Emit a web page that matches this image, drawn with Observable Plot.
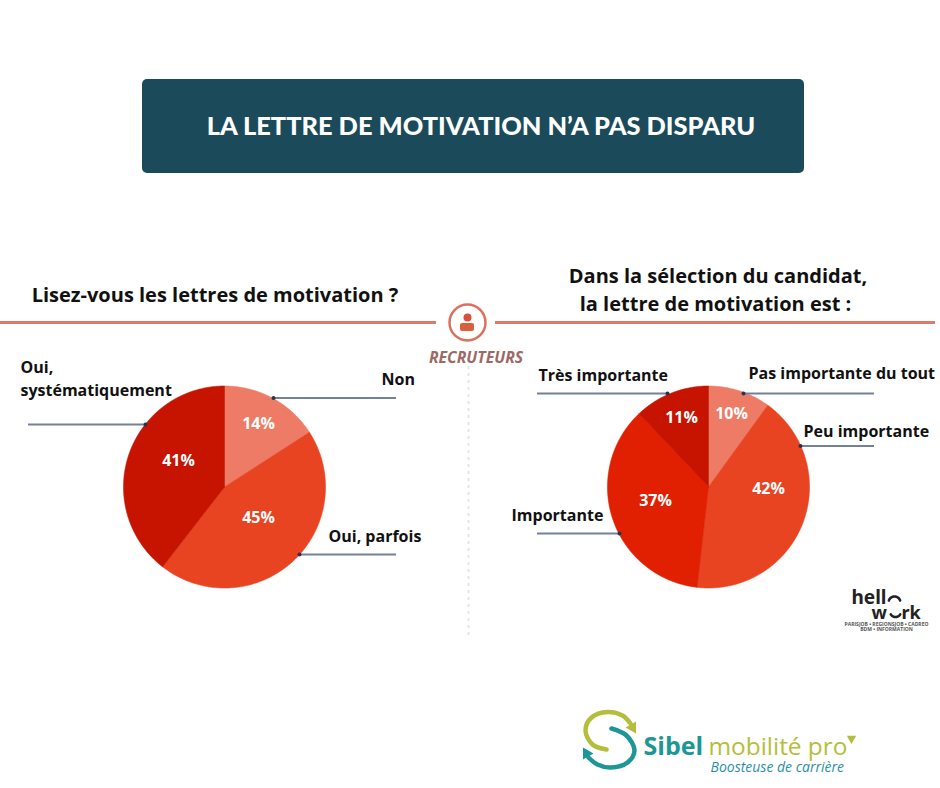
<!DOCTYPE html>
<html lang="fr">
<head>
<meta charset="utf-8">
<script src="https://cdn.jsdelivr.net/npm/d3@7"></script>
<script src="https://cdn.jsdelivr.net/npm/@observablehq/plot@0.6"></script>
<style>
html,body{margin:0;padding:0;background:#fff;}
svg{display:block;}
</style>
</head>
<body>
<div id="chart"></div>
<script>
// ---- Data ----
const mainTitle = "LA LETTRE DE MOTIVATION N’A PAS DISPARU";
const leftQuestion = ["Lisez-vous les lettres de motivation ?"];
const rightQuestion = ["Dans la sélection du candidat,", "la lettre de motivation est :"];
const centerLabel = "RECRUTEURS";

const leftCategories = ["Non", "Oui, parfois", "Oui, systématiquement"];
const leftPercentLabels = ["14%", "45%", "41%"];
const leftShares = [15.9, 44.6, 39.5];           // slice sizes as drawn in the picture

const rightCategories = ["Pas importante du tout", "Peu importante", "Importante", "Très importante"];
const rightPercentLabels = ["10%", "42%", "37%", "11%"];
const rightShares = [10, 41.8, 36.1, 12.1];      // slice sizes as drawn in the picture

// ---- Layout and style (separate from the data) ----
const W = 940, H = 788;
const R = 101;
const leftCenter = [224, 486.5], rightCenter = [708, 486.5];
const leftColors = ["#EE7B65", "#E84422", "#C61400"];
const rightColors = ["#EE7B65", "#E84422", "#E02000", "#C61400"];
const leftPctPos = [[258, 423], [258, 517], [178, 460]];
const rightPctPos = [[731, 413], [768, 488], [655, 500], [681, 417]];
const leaderColor = "#75819A";
const font = "'Open Sans', sans-serif";

function wedges(shares, colors, center, id) {
  const arcs = d3.pie().sort(null)(shares);
  return arcs.flatMap((a, i) => {
    const n = Math.ceil((a.endAngle - a.startAngle) / 0.01);
    const pts = [{x: center[0], y: center[1], z: id + i, c: colors[i]}];
    for (let k = 0; k <= n; k++) {
      const t = a.startAngle + (a.endAngle - a.startAngle) * k / n;
      pts.push({x: center[0] + R * Math.sin(t), y: center[1] - R * Math.cos(t), z: id + i, c: colors[i]});
    }
    pts.push(pts[0]);
    return pts;
  });
}
const pieRows = [
  ...wedges(leftShares, leftColors, leftCenter, "L"),
  ...wedges(rightShares, rightColors, rightCenter, "R")
];
const pctRows = [
  ...leftPercentLabels.map((t, i) => ({t, x: leftPctPos[i][0], y: leftPctPos[i][1]})),
  ...rightPercentLabels.map((t, i) => ({t, x: rightPctPos[i][0], y: rightPctPos[i][1]}))
];
const leaders = [
  [273, 396, 397.5], [299, 396, 554], [145, 28, 424],
  [743, 874, 393], [800, 874, 445.5], [619, 537, 533], [667, 537, 393]
].map(([x1, x2, y]) => ({x1, x2, y}));

const catRows = [
  {t: leftCategories[0], x: 381, y: 384},
  {t: leftCategories[1], x: 328, y: 541},
  {t: "Oui,\nsystématiquement", x: 20, y: 395},
  {t: rightCategories[0], x: 748, y: 378},
  {t: rightCategories[1], x: 803, y: 436},
  {t: rightCategories[2], x: 511, y: 520},
  {t: rightCategories[3], x: 538, y: 380}
];

const arcAround = (cx, cy, r, a0, a1) => d3.range(0, 1.0001, 0.02).map(f => {
  const a = (a0 + (a1 - a0) * f) * Math.PI / 180;
  return {x: cx + r * Math.cos(a), y: cy + r * Math.sin(a)};
});
const sibelOlive = "#B4BE3C", sibelTeal = "#1C9795";
const olivePath = [{x:606,y:749},{x:592,y:744},{x:585,y:730},{x:591,y:717},{x:607,y:711.5},{x:622,y:715},{x:630,y:723}];
const tealPath = [{x:611,y:728},{x:626,y:735},{x:634,y:750},{x:627,y:762},{x:610,y:767},{x:597,y:764},{x:588,y:757}];

const chart = Plot.plot({
  width: W, height: H, margin: 0,
  x: {domain: [0, W], range: [0, W], axis: null},
  y: {domain: [0, H], range: [0, H], axis: null},
  style: {background: "#fff", fontFamily: font},
  marks: [
    // banner
    Plot.rect([{x1: 142, x2: 804, y1: 79, y2: 173}], {x1: "x1", x2: "x2", y1: "y1", y2: "y2", fill: "#1B4B5A", rx: 5}),
    Plot.text([{t: mainTitle, x: 480.5, y: 134}], {x: "x", y: "y", text: "t", fill: "#fff", fontSize: 25.4, fontWeight: 900,
      fontFamily: "Lato, sans-serif", lineAnchor: "bottom", textAnchor: "middle"}),

    // questions
    Plot.text([{t: leftQuestion[0], x: 214.5, y: 301}], {x: "x", y: "y", text: "t", fill: "#111", fontSize: 20, fontWeight: 700, lineAnchor: "bottom", textAnchor: "middle"}),
    Plot.text([{t: rightQuestion[0], x: 717.5, y: 282.5}, {t: rightQuestion[1], x: 715, y: 310.5}], {x: "x", y: "y", text: "t", fill: "#111", fontSize: 20, fontWeight: 700, lineAnchor: "bottom", textAnchor: "middle"}),

    // divider with centre icon
    Plot.ruleY([{y: 322, x1: 0, x2: 436}, {y: 322, x1: 495, x2: 935}], {y: "y", x1: "x1", x2: "x2", stroke: "#DB7C6A", strokeWidth: 3}),
    Plot.dot([{x: 467, y: 322}], {x: "x", y: "y", r: 18, stroke: "#D9715D", strokeWidth: 2.5, fill: "#fff"}),
    Plot.dot([{x: 467, y: 317}], {x: "x", y: "y", r: 4, fill: "#D8503C"}),
    Plot.rect([{x1: 460, x2: 474, y1: 323, y2: 331}], {x1: "x1", x2: "x2", y1: "y1", y2: "y2", fill: "#D8603C", rx: 2}),
    Plot.text([{t: centerLabel, x: 475.5, y: 362}], {x: "x", y: "y", text: "t", fill: "#9C6A66", fontSize: 15.8, fontWeight: 700, fontStyle: "italic", lineAnchor: "bottom", textAnchor: "middle"}),
    Plot.ruleX([{x: 468, y1: 366, y2: 636}], {x: "x", y1: "y1", y2: "y2", stroke: "#E6E6E6", strokeWidth: 2, strokeDasharray: "3 4"}),

    // pies
    Plot.line(pieRows, {x: "x", y: "y", z: "z", fill: "c", stroke: "c", strokeWidth: 0.6, curve: "linear"}),
    Plot.text(pctRows, {x: "x", y: "y", text: "t", fill: "#fff", fontSize: 16, fontWeight: 700}),

    // leaders
    Plot.ruleY(leaders, {y: "y", x1: "x1", x2: "x2", stroke: leaderColor, strokeWidth: 2}),
    Plot.dot(leaders, {x: "x1", y: "y", r: 2, fill: "#2A3350"}),
    Plot.text(catRows, {x: "x", y: "y", text: "t", fill: "#111", fontSize: 16, fontWeight: 700, lineAnchor: "bottom", textAnchor: "start", lineHeight: 1.4}),

    // hellowork logo
    Plot.text([{t: "hell", x: 851, y: 603}], {x: "x", y: "y", text: "t", fill: "#222", fontSize: 19, fontWeight: 700, fontFamily: "'Noto Sans', sans-serif", lineAnchor: "bottom", textAnchor: "start"}),
    Plot.text([{t: "w", x: 871, y: 618}, {t: "rk", x: 901, y: 618}], {x: "x", y: "y", text: "t", fill: "#222", fontSize: 18, fontWeight: 700, fontFamily: "'Noto Sans', sans-serif", lineAnchor: "bottom", textAnchor: "start"}),
    Plot.line(arcAround(894, 602, 6, 200, 340), {x: "x", y: "y", stroke: "#222", strokeWidth: 2.6}),
    Plot.line(arcAround(895, 611, 5.5, 30, 150), {x: "x", y: "y", stroke: "#222", strokeWidth: 2.6}),
    Plot.text([{t: "PARISJOB • REGIONSJOB • CADREO", x: 886, y: 625}, {t: "BDM • INFORMATION", x: 886, y: 630.5}], {x: "x", y: "y", text: "t", fill: "#555", fontSize: 5, fontWeight: 700, lineAnchor: "bottom", textAnchor: "middle"}),

    // Sibel logo
    Plot.line(olivePath, {x: "x", y: "y", stroke: sibelOlive, strokeWidth: 4.5, curve: "catmull-rom"}),
    Plot.line(tealPath, {x: "x", y: "y", stroke: sibelTeal, strokeWidth: 4.5, curve: "catmull-rom"}),
    Plot.dot([{x: 632, y: 727}], {x: "x", y: "y", symbol: "triangle", r: 4.5, rotate: 150, fill: sibelOlive}),
    Plot.dot([{x: 586, y: 753}], {x: "x", y: "y", symbol: "triangle", r: 4.5, rotate: -30, fill: sibelTeal}),
    Plot.text([{t: "Sibel", x: 643, y: 754}], {x: "x", y: "y", text: "t", fill: sibelTeal, fontSize: 25, fontWeight: 700, fontFamily: "'Open Sans', sans-serif", lineAnchor: "bottom", textAnchor: "start"}),
    Plot.text([{t: "mobilité pro", x: 708, y: 754}], {x: "x", y: "y", text: "t", fill: sibelOlive, fontSize: 24.4, fontWeight: 400, fontFamily: "'Open Sans', sans-serif", lineAnchor: "bottom", textAnchor: "start"}),
    Plot.dot([{x: 851, y: 738}], {x: "x", y: "y", symbol: "triangle", r: 3.5, rotate: 180, fill: sibelOlive}),
    Plot.text([{t: "Boosteuse de carrière", x: 710, y: 771}], {x: "x", y: "y", text: "t", fill: "#2B8FA3", fontSize: 14, fontStyle: "italic", fontFamily: "'Open Sans', sans-serif", lineAnchor: "bottom", textAnchor: "start"})
  ]
});
document.getElementById("chart").append(chart);
</script>
</body>
</html>
